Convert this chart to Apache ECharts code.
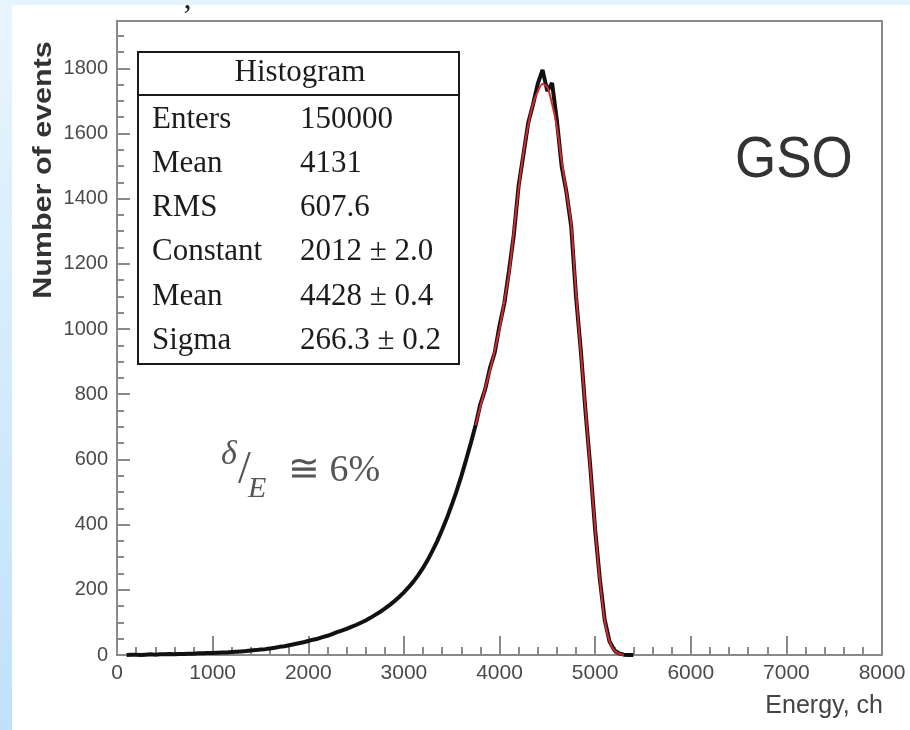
<!DOCTYPE html>
<html>
<head>
<meta charset="utf-8">
<script src="https://cdn.jsdelivr.net/npm/echarts@6/dist/echarts.min.js"></script>
<style>
  html, body { margin: 0; padding: 0; background: #ffffff; }
  #chart { width: 910px; height: 730px; }
</style>
</head>
<body>
<div id="chart"></div>
<script>
// Energy spectrum of a GSO crystal: histogram of events per channel with a peak fit.

// Histogram bins (channel width 50, first bin at channel 100)
const histStart = 100;
const histStep = 50;
const histCounts = [
  0, 1, 1, 0, 1, 2, 1, 2, 2, 3,
  2, 3, 3, 4, 4, 5, 5, 6, 6, 7,
  8, 8, 9, 10, 11, 12, 14, 15, 17, 18,
  20, 22, 25, 27, 30, 33, 36, 39, 43, 47,
  50, 55, 59, 64, 70, 75, 80, 86, 92, 99,
  106, 114, 123, 132, 142, 153, 165, 178, 192, 208,
  225, 245, 267, 292, 320, 350, 384, 420, 460, 502,
  548, 598, 650, 705, 770, 815, 880, 928, 1010, 1078,
  1180, 1290, 1440, 1535, 1632, 1688, 1752, 1795, 1730, 1755,
  1640, 1500, 1420, 1315, 1100, 935, 745, 575, 385, 230,
  108, 42, 15, 5, 1, 0, 0
];

// Fitted peak curve (starts at channel 3750, step 50)
const fitStart = 3750;
const fitStep = 50;
const fitCounts = [
  705, 762, 818, 873, 935, 1000, 1085, 1170, 1300,
  1430, 1540, 1625, 1690, 1728, 1752, 1742, 1690, 1620, 1515,
  1420, 1320, 1110, 930, 750, 570, 390, 228, 106, 42,
  14, 4, 0
];

// Axis tick labels
const xTickLabels = ['0', '1000', '2000', '3000', '4000', '5000', '6000', '7000', '8000'];
const yTickLabels = ['0', '200', '400', '600', '800', '1000', '1200', '1400', '1600', '1800'];

// Statistics box contents
const statTitle = 'Histogram';
const statNames = ['Enters', 'Mean', 'RMS', 'Constant', 'Mean', 'Sigma'];
const statValues = ['150000', '4131', '607.6', '2012 \u00b1 2.0', '4428 \u00b1 0.4', '266.3 \u00b1 0.2'];

const histData = histCounts.map((c, i) => [histStart + i * histStep, c]);
const fitData = fitCounts.map((c, i) => [fitStart + i * fitStep, c]);

const serif = '"Liberation Serif", "Times New Roman", serif';
const sans = '"Liberation Sans", Arial, Helvetica, sans-serif';

const chart = echarts.init(document.getElementById('chart'), null, { renderer: 'canvas' });

// Stats box rows
const rowY = [120, 164, 208, 252, 297, 341];
const statGraphics = [];
statNames.forEach((name, i) => {
  statGraphics.push({
    type: 'text', x: 152, y: rowY[i], z: 20,
    style: { text: name, font: '31px ' + serif, fill: '#1c1c1c', textVerticalAlign: 'middle' }
  });
  statGraphics.push({
    type: 'text', x: 300, y: rowY[i], z: 20,
    style: { text: statValues[i], font: '31px ' + serif, fill: '#1c1c1c', textVerticalAlign: 'middle' }
  });
});

const option = {
  backgroundColor: '#ffffff',
  animation: false,
  grid: {
    left: 117, top: 21, right: 28, bottom: 75,
    show: true, borderColor: '#8a8a8a', borderWidth: 2, backgroundColor: 'transparent'
  },
  xAxis: [{
    type: 'value', min: 0, max: 8000, interval: 1000,
    axisLine: { show: true, onZero: false, lineStyle: { color: '#8a8a8a', width: 2 } },
    axisTick: { show: true, inside: true, length: 19, lineStyle: { color: '#8a8a8a', width: 2 } },
    minorTick: { show: true, splitNumber: 5, length: 8, lineStyle: { color: '#8a8a8a', width: 2 } },
    splitLine: { show: false },
    axisLabel: {
      margin: 8, color: '#4a4a4a', fontSize: 21, fontFamily: sans,
      formatter: (v) => xTickLabels[Math.round(v / 1000)]
    }
  }],
  yAxis: [{
    type: 'value', min: 0, max: 1945, interval: 200,
    axisLine: { show: true, onZero: false, lineStyle: { color: '#8a8a8a', width: 2 } },
    axisTick: { show: true, inside: true, length: 13, lineStyle: { color: '#8a8a8a', width: 2 } },
    splitLine: { show: false },
    axisLabel: {
      margin: 9, color: '#4a4a4a', fontSize: 20, fontFamily: sans, showMaxLabel: false,
      formatter: (v) => (v % 200 === 0 ? yTickLabels[v / 200] : '')
    }
  }, {
    // minor ticks every 50 events
    type: 'value', min: 0, max: 1945, interval: 50, position: 'left',
    axisLine: { show: false },
    axisTick: { show: true, inside: true, length: 7, lineStyle: { color: '#8a8a8a', width: 2 } },
    axisLabel: { show: false },
    splitLine: { show: false }
  }],
  series: [{
    name: 'Events', type: 'line', xAxisIndex: 0, yAxisIndex: 0,
    data: histData, showSymbol: false, symbol: 'none',
    lineStyle: { color: '#111111', width: 4 }, z: 3
  }, {
    name: 'Fit', type: 'line', xAxisIndex: 0, yAxisIndex: 0,
    data: fitData, showSymbol: false, symbol: 'none', smooth: 0.3,
    lineStyle: { color: '#d42a2f', width: 2 }, z: 4
  }],
  graphic: [
    // page frame strips
    {
      type: 'rect', left: 0, top: 0, z: 1, silent: true,
      shape: { width: 12, height: 730 },
      style: { fill: new echarts.graphic.LinearGradient(0, 0, 0, 1, [
        { offset: 0, color: '#e9f5fd' }, { offset: 1, color: '#bfe1fa' }]) }
    },
    {
      type: 'rect', left: 0, top: 0, z: 1, silent: true,
      shape: { width: 910, height: 5 },
      style: { fill: '#e6f4fd' }
    },
    // axis titles
    {
      type: 'text', x: 44, y: 170, rotation: Math.PI / 2, scaleX: 1.22, z: 10,
      style: {
        text: 'Number of events', font: 'bold 25px ' + sans, fill: '#333333',
        textAlign: 'center', textVerticalAlign: 'middle'
      }
    },
    {
      type: 'text', right: 27, top: 694, z: 10,
      style: { text: 'Energy, ch', font: '25px ' + sans, fill: '#444444' }
    },
    // crystal label
    {
      type: 'text', x: 735, y: 161, scaleY: 1.1, z: 10,
      style: { text: 'GSO', font: '53px ' + sans, fill: '#333333', textVerticalAlign: 'middle' }
    },
    // energy resolution annotation
    {
      type: 'text', x: 221, y: 455, z: 10,
      style: { text: '\u03b4', font: 'italic 34px ' + serif, fill: '#555555', textVerticalAlign: 'middle' }
    },
    {
      type: 'text', x: 238, y: 471, z: 10,
      style: { text: '/', font: '46px ' + serif, fill: '#555555', textVerticalAlign: 'middle' }
    },
    {
      type: 'text', x: 248, y: 489, z: 10,
      style: { text: 'E', font: 'italic 30px ' + serif, fill: '#555555', textVerticalAlign: 'middle' }
    },
    {
      type: 'text', x: 288, y: 471, z: 10,
      style: { text: '\u2245 6%', font: '38px ' + serif, fill: '#555555', textVerticalAlign: 'middle' }
    },
    // clipped title remnant
    {
      type: 'text', x: 182, y: 2, z: 10,
      style: { text: '\u2019', font: '32px ' + serif, fill: '#222222' }
    },
    // statistics box
    {
      type: 'rect', left: 137, top: 51, z: 19,
      shape: { width: 321, height: 312 },
      style: { fill: '#ffffff', stroke: '#1a1a1a', lineWidth: 2 }
    },
    {
      type: 'line', z: 20,
      shape: { x1: 137, y1: 95, x2: 458, y2: 95 },
      style: { stroke: '#1a1a1a', lineWidth: 2 }
    },
    {
      type: 'text', x: 300, y: 73, z: 20,
      style: { text: statTitle, font: '31px ' + serif, fill: '#1c1c1c', textAlign: 'center', textVerticalAlign: 'middle' }
    }
  ].concat(statGraphics)
};

chart.setOption(option);
</script>
</body>
</html>
